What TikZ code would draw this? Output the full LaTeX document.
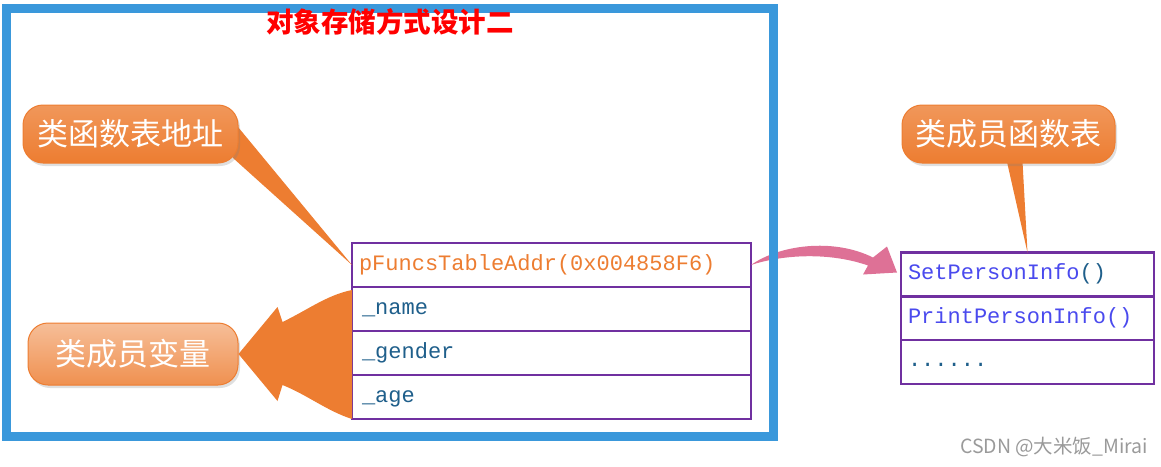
\documentclass[tikz,border=0pt]{standalone}
\usepackage{fontspec}
\usepackage{tikz}
\usetikzlibrary{positioning,calc,shadows}
\newfontfamily\cjkfont{Noto Sans CJK SC}
\newfontfamily\codefont{Liberation Mono}
\definecolor{frameblue}{HTML}{3A98DB}
\definecolor{calloutorange}{HTML}{ED7D31}
\definecolor{tablepurple}{HTML}{7030A0}
\definecolor{fieldteal}{HTML}{1F5F8B}
\definecolor{funcblue}{HTML}{4A4AEE}
\definecolor{arrowpink}{HTML}{DE7196}
\definecolor{markgray}{HTML}{9A9A9A}

\begin{document}
\begin{tikzpicture}[x=1pt,y=-1pt,
    callout/.style={rounded corners=20pt, inner sep=0pt, draw=calloutorange, line width=1pt,
        top color=calloutorange!80!white, bottom color=calloutorange,
        drop shadow={opacity=0.25, shadow xshift=2pt, shadow yshift=-3pt},
        text=white, font=\cjkfont\fontsize{31}{31}\selectfont},
    rowbox/.style={draw=tablepurple, line width=2.5pt, fill=white, outer sep=0pt,
        inner xsep=6pt, text height=15pt, text depth=5pt, align=left,
        font=\codefont\fontsize{22}{22}\selectfont},
    fieldrow/.style={rowbox, minimum width=399pt, minimum height=44pt, text width=385pt},
    funcrow/.style={rowbox, minimum width=253pt, minimum height=43.7pt, text width=239pt}]
    \useasboundingbox (0,0) rectangle (1161,466);

    \node[fieldrow, text=calloutorange] (addr) at (551.5,265) {pFuncsTableAddr(0x004858F6)};
    \node[fieldrow, text=fieldteal, below=0pt of addr] (name) {\hspace{3pt}\_name};
    \node[fieldrow, text=fieldteal, below=0pt of name] (gender) {\hspace{3pt}\_gender};
    \node[fieldrow, text=fieldteal, below=0pt of gender] (age) {\hspace{3pt}\_age};

    \node[funcrow, text=funcblue] (set) at (1027.5,274.5) {SetPersonInfo\textcolor{fieldteal}{()}};
    \node[funcrow, text=funcblue, below=0pt of set] (print) {PrintPersonInfo()};
    \node[funcrow, text=fieldteal, below=0pt of print] (more) {......};

    \coordinate (ftabase) at (238,127);
    \coordinate (mftbase) at (1007,162);
    \fill[calloutorange] (ftabase) -- (addr.west) -- ++(-119,-107) -- cycle;
    \fill[calloutorange] (mftbase) -- (set.north) -- ++(-5,-91) -- cycle;

    \node[callout, minimum width=215pt, minimum height=58pt] (fta) at (130.5,134) {类函数表地址};
    \node[callout, minimum width=213pt, minimum height=58pt] (mft) at (1008.5,134) {类成员函数表};
    \node[callout, minimum width=210pt, minimum height=62pt,
        top color=calloutorange!50!white, bottom color=calloutorange!85!white] (mv) at (133,354) {类成员变量};

    \fill[calloutorange] (mv.east) -- ++(39,-47) -- ++(5,15)
        .. controls +(25,-12) and +(-25,5) .. ($(name.north west)+(0,3)$)
        -- (age.south west)
        .. controls +(-25,-8) and +(25,10) .. ($(mv.east)+(44,31)$)
        -- ++(-5,16) -- cycle;

    \fill[arrowpink] (addr.east) .. controls +(28,-20) and +(-40,-20) .. ($(set.west)+(-28,-17)$)
        -- ($(set.west)+(-14,-28)$) -- ($(set.west)+(-4,-2)$) -- ($(set.west)+(-38,0)$)
        -- ($(set.west)+(-33,-9)$) .. controls +(-40,-14) and +(30,-10) .. (addr.east) -- cycle;

    \draw[frameblue, line width=9pt] (6,8) rectangle (773,436);

    \node[text=red, font=\cjkfont\bfseries\fontsize{27.5}{27.5}\selectfont] (title) at (390,22) {对象存储方式设计二};
    \node[text=markgray, font=\cjkfont\fontsize{19.5}{19.5}\selectfont] (mark) at (1054,447) {CSDN @大米饭\_Mirai};
\end{tikzpicture}
\end{document}
